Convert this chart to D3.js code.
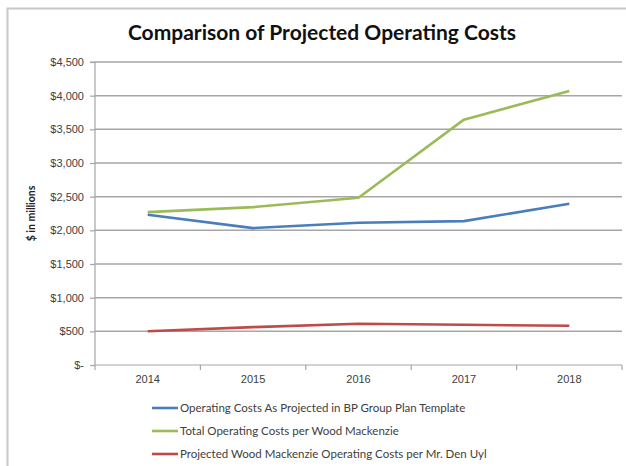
<!DOCTYPE html>
<html>
<head>
    <script src="https://d3js.org/d3.v7.min.js"></script>
    <style>
        body { margin: 0; background: #fff; }
        svg { font-family: Lato, 'Open Sans', sans-serif; }
        .grid line { stroke: #a6a6a6; stroke-width: 1.5px; }
        .axis path, .axis line { stroke: #a6a6a6; stroke-width: 1.2px; }
        .axis text { fill: #404040; font-size: 11px; }
        .legend text { fill: #404040; font-size: 11.5px; }
    </style>
</head>
<body>
<div id="chart"></div>
<script>
    const years = ["2014", "2015", "2016", "2017", "2018"];
    const bpPlan = [2232, 2033, 2113, 2137, 2396];
    const woodMac = [2271, 2345, 2485, 3644, 4069];
    const denUyl = [502, 562, 612, 597, 583];
    const yTicks = [0, 500, 1000, 1500, 2000, 2500, 3000, 3500, 4000, 4500];

    const series = [
        { name: "Operating Costs As Projected in BP Group Plan Template", values: bpPlan, color: "#4a7ebb" },
        { name: "Total Operating Costs per Wood Mackenzie", values: woodMac, color: "#9bbb59" },
        { name: "Projected Wood Mackenzie Operating Costs per Mr. Den Uyl", values: denUyl, color: "#be4b48" }
    ];

    const width = 626, height = 466;
    const margin = { left: 95, right: 4, top: 62, bottom: 101 };

    const svg = d3.select("#chart").append("svg")
        .attr("width", width).attr("height", height);

    // outer frame like the spreadsheet chart border
    svg.append("rect")
        .attr("x", 7.5).attr("y", 8.5)
        .attr("width", 640).attr("height", 480)
        .attr("fill", "none").attr("stroke", "#c8c8c8").attr("stroke-width", 2);

    const x = d3.scaleBand().domain(years).range([margin.left, width - margin.right]);
    const y = d3.scaleLinear().domain([0, 4500]).range([height - margin.bottom, margin.top]);

    svg.append("text")
        .attr("x", 322).attr("y", 40)
        .attr("text-anchor", "middle")
        .attr("font-size", 21).attr("font-weight", "bold").attr("fill", "#111")
        .text("Comparison of Projected Operating Costs");

    svg.append("g").attr("class", "grid")
        .selectAll("line").data(yTicks.slice(1)).join("line")
        .attr("x1", margin.left).attr("x2", width - margin.right)
        .attr("y1", d => y(d)).attr("y2", d => y(d));

    svg.append("g").attr("class", "axis")
        .attr("transform", `translate(${margin.left},0)`)
        .call(d3.axisLeft(y).tickValues(yTicks).tickSize(5).tickPadding(6)
            .tickFormat(d => d === 0 ? "$-" : "$" + d3.format(",")(d)))
        .call(g => g.select(".domain").attr("d", `M-5,${y(4500)}H0V${y(0)}`));

    svg.append("g").attr("class", "axis")
        .attr("transform", `translate(0,${y(0)})`)
        .call(d3.axisBottom(x).tickSize(0).tickPadding(10))
        .call(g => g.select(".domain").remove())
        .call(g => g.append("line")
            .attr("x1", margin.left).attr("x2", width - margin.right))
        .call(g => g.selectAll(".sep").data(years.concat(["end"])).join("line")
            .attr("class", "sep")
            .attr("x1", (d, i) => margin.left + i * x.step())
            .attr("x2", (d, i) => margin.left + i * x.step())
            .attr("y1", 0).attr("y2", 5))
        .call(g => g.selectAll("text").attr("font-size", 11.5));

    svg.append("text")
        .attr("transform", `translate(35,${y(2250)}) rotate(-90)`)
        .attr("text-anchor", "middle")
        .attr("font-size", 10.5).attr("font-weight", "bold").attr("fill", "#222")
        .text("$ in millions");

    const line = d3.line()
        .x((d, i) => x(years[i]) + x.bandwidth() / 2)
        .y(d => y(d));

    svg.append("g").selectAll("path").data(series).join("path")
        .attr("fill", "none")
        .attr("stroke", d => d.color)
        .attr("stroke-width", 2.6)
        .attr("stroke-linejoin", "round")
        .attr("d", d => line(d.values));

    const legend = svg.append("g").attr("class", "legend")
        .selectAll("g").data(series).join("g")
        .attr("transform", (d, i) => `translate(152,${408 + i * 23})`);

    legend.append("line")
        .attr("x1", 0).attr("x2", 26)
        .attr("stroke", d => d.color).attr("stroke-width", 2.6);

    legend.append("text")
        .attr("x", 28).attr("dy", "0.35em")
        .text(d => d.name);
</script>
</body>
</html>
